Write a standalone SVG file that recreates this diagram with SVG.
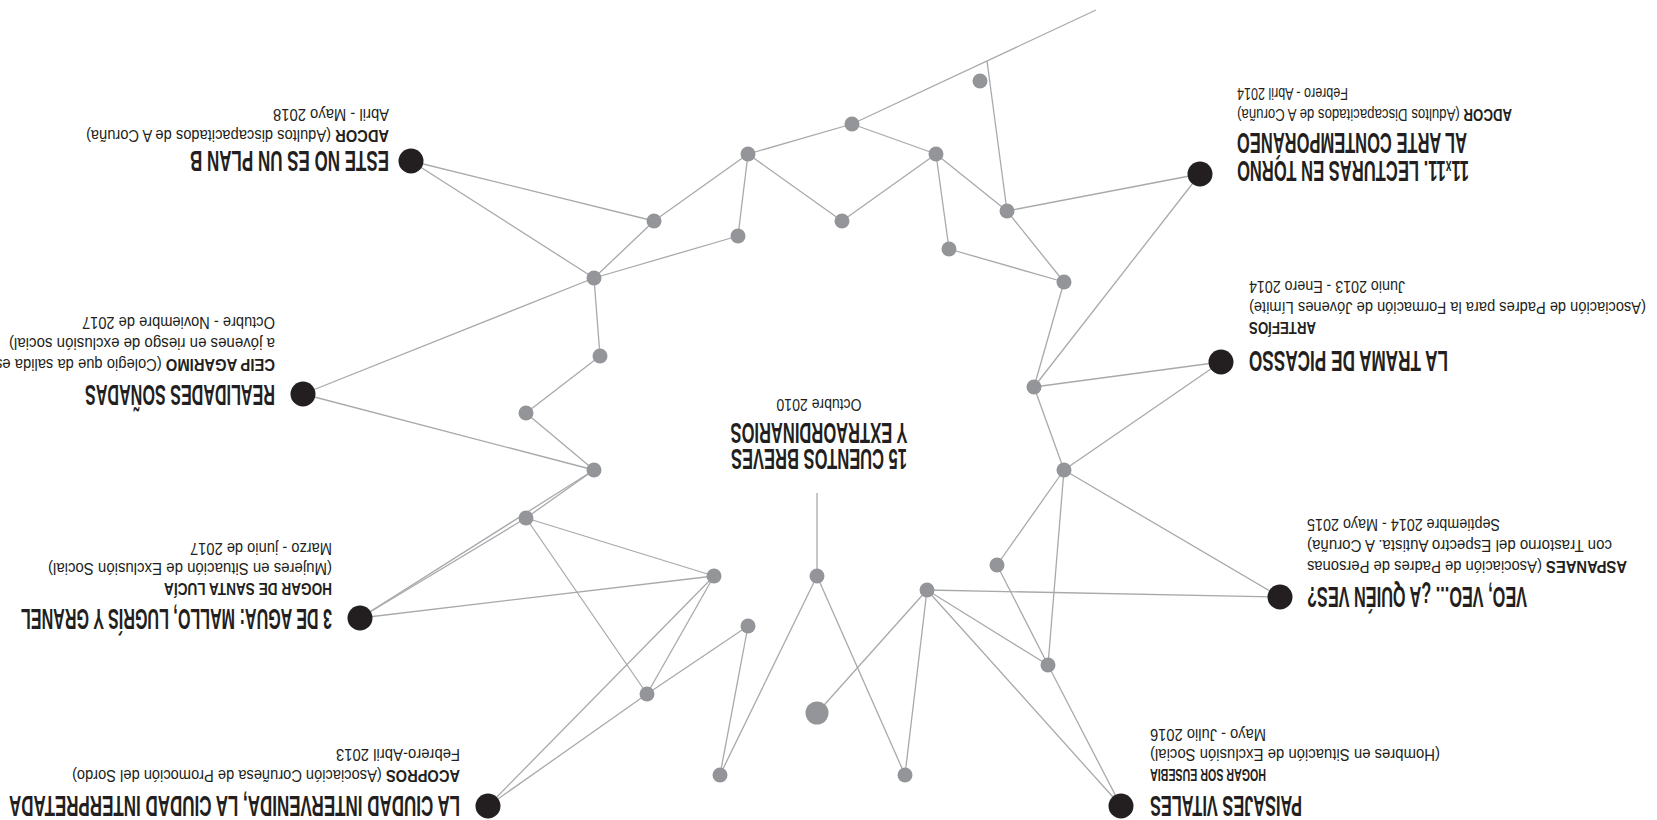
<svg xmlns="http://www.w3.org/2000/svg" width="1657" height="820" viewBox="0 0 1657 820">
<style>
.c line{stroke:#a7a9ac;stroke-width:1.3;fill:none}
.g{fill:#939598}
.b{fill:#231f20}
.t{font-family:"Liberation Sans","DejaVu Sans",sans-serif;font-weight:bold;font-size:29px;fill:#231f20}
.s{font-family:"Liberation Sans","DejaVu Sans",sans-serif;font-size:16.5px;fill:#231f20}
.s tspan.k{font-weight:bold}
.bs{font-family:"Liberation Sans","DejaVu Sans",sans-serif;font-weight:bold;font-size:16.5px;fill:#231f20}
</style>
<rect width="1657" height="820" fill="#ffffff"/>
<g transform="rotate(180 828.5 410)">
<g id="connectors" class="c">
<line x1="561" y1="810" x2="805" y2="696"/>
<line x1="670" y1="759" x2="650" y2="609"/>
<line x1="805" y1="696" x2="909" y2="666"/>
<line x1="805" y1="696" x2="721" y2="666"/>
<line x1="909" y1="666" x2="1003" y2="599"/>
<line x1="909" y1="666" x2="919" y2="584"/>
<line x1="909" y1="666" x2="815" y2="599"/>
<line x1="721" y1="666" x2="815" y2="599"/>
<line x1="721" y1="666" x2="708" y2="571"/>
<line x1="721" y1="666" x2="650" y2="609"/>
<line x1="1003" y1="599" x2="1246" y2="659"/>
<line x1="1003" y1="599" x2="1063" y2="542"/>
<line x1="1246" y1="659" x2="1063" y2="542"/>
<line x1="919" y1="584" x2="1063" y2="542"/>
<line x1="1063" y1="542" x2="1354" y2="426"/>
<line x1="1063" y1="542" x2="1057" y2="464"/>
<line x1="1057" y1="464" x2="1131" y2="407"/>
<line x1="1131" y1="407" x2="1063" y2="350"/>
<line x1="1354" y1="426" x2="1063" y2="350"/>
<line x1="1063" y1="350" x2="1131" y2="302"/>
<line x1="1063" y1="350" x2="1297" y2="202"/>
<line x1="650" y1="609" x2="457" y2="646"/>
<line x1="650" y1="609" x2="593" y2="538"/>
<line x1="708" y1="571" x2="593" y2="538"/>
<line x1="593" y1="538" x2="623" y2="433"/>
<line x1="623" y1="433" x2="457" y2="646"/>
<line x1="623" y1="433" x2="436" y2="458"/>
<line x1="623" y1="433" x2="593" y2="350"/>
<line x1="593" y1="350" x2="436" y2="458"/>
<line x1="593" y1="350" x2="377" y2="223"/>
<line x1="593" y1="350" x2="660" y2="255"/>
<line x1="593" y1="350" x2="609" y2="155"/>
<line x1="660" y1="255" x2="609" y2="155"/>
<line x1="730" y1="230" x2="377" y2="223"/>
<line x1="730" y1="230" x2="609" y2="155"/>
<line x1="730" y1="230" x2="536" y2="14"/>
<line x1="609" y1="155" x2="536" y2="14"/>
<line x1="730" y1="230" x2="752" y2="45"/>
<line x1="730" y1="230" x2="840" y2="107"/>
<line x1="1131" y1="302" x2="1297" y2="202"/>
<line x1="1131" y1="302" x2="1010" y2="126"/>
<line x1="1131" y1="302" x2="943" y2="244"/>
<line x1="943" y1="244" x2="1297" y2="202"/>
<line x1="943" y1="244" x2="1169" y2="14"/>
<line x1="943" y1="244" x2="1010" y2="126"/>
<line x1="1010" y1="126" x2="1169" y2="14"/>
<line x1="1010" y1="126" x2="909" y2="194"/>
<line x1="909" y1="194" x2="937" y2="45"/>
<line x1="840" y1="244" x2="937" y2="45"/>
<line x1="840" y1="244" x2="752" y2="45"/>
<line x1="840" y1="244" x2="840" y2="327"/>
</g>
<g id="n-g1"><circle class="g" cx="677" cy="739" r="7.5"/></g>
<g id="n-g2"><circle class="g" cx="805" cy="696" r="7.5"/></g>
<g id="n-g3"><circle class="g" cx="909" cy="666" r="7.5"/></g>
<g id="n-g4"><circle class="g" cx="721" cy="666" r="7.5"/></g>
<g id="n-g5"><circle class="g" cx="1003" cy="599" r="7.5"/></g>
<g id="n-g6"><circle class="g" cx="919" cy="584" r="7.5"/></g>
<g id="n-g7"><circle class="g" cx="815" cy="599" r="7.5"/></g>
<g id="n-g8"><circle class="g" cx="650" cy="609" r="7.5"/></g>
<g id="n-g9"><circle class="g" cx="708" cy="571" r="7.5"/></g>
<g id="n-g10"><circle class="g" cx="593" cy="538" r="7.5"/></g>
<g id="n-g11"><circle class="g" cx="1063" cy="542" r="7.5"/></g>
<g id="n-g12"><circle class="g" cx="1057" cy="464" r="7.5"/></g>
<g id="n-g13"><circle class="g" cx="1131" cy="407" r="7.5"/></g>
<g id="n-g14"><circle class="g" cx="623" cy="433" r="7.5"/></g>
<g id="n-g15"><circle class="g" cx="1063" cy="350" r="7.5"/></g>
<g id="n-g16"><circle class="g" cx="1131" cy="302" r="7.5"/></g>
<g id="n-g17"><circle class="g" cx="593" cy="350" r="7.5"/></g>
<g id="n-g18"><circle class="g" cx="943" cy="244" r="7.5"/></g>
<g id="n-g19"><circle class="g" cx="840" cy="244" r="7.5"/></g>
<g id="n-g20"><circle class="g" cx="660" cy="255" r="7.5"/></g>
<g id="n-g21"><circle class="g" cx="730" cy="230" r="7.5"/></g>
<g id="n-g22"><circle class="g" cx="909" cy="194" r="7.5"/></g>
<g id="n-g23"><circle class="g" cx="609" cy="155" r="7.5"/></g>
<g id="n-g24"><circle class="g" cx="1010" cy="126" r="7.5"/></g>
<g id="n-g25"><circle class="g" cx="840" cy="107" r="11.5"/></g>
<g id="n-g26"><circle class="g" cx="937" cy="45" r="7.5"/></g>
<g id="n-g27"><circle class="g" cx="752" cy="45" r="7.5"/></g>

<g id="n-center">
<text class="t" x="838" y="371" text-anchor="middle" textLength="176" lengthAdjust="spacingAndGlyphs">15 CUENTOS BREVES</text>
<text class="t" x="838" y="397" text-anchor="middle" textLength="177" lengthAdjust="spacingAndGlyphs">Y EXTRAORDINARIOS</text>
<text class="s" x="838" y="421" text-anchor="middle" textLength="85" lengthAdjust="spacingAndGlyphs">Octubre 2010</text>
</g>

<g id="n-plan-b">
<circle class="b" cx="1246" cy="659" r="12.5"/>
<text class="t" x="1268" y="669" textLength="199" lengthAdjust="spacingAndGlyphs">ESTE NO ES UN PLAN B</text>
<text class="s" x="1268" y="690" textLength="303" lengthAdjust="spacingAndGlyphs"><tspan class="k">ADCOR</tspan> (Adultos discapacitados de A Coruña)</text>
<text class="s" x="1268" y="711" textLength="116" lengthAdjust="spacingAndGlyphs">Abril - Mayo 2018</text>
</g>

<g id="n-realidades">
<circle class="b" cx="1354" cy="426" r="12.5"/>
<text class="t" x="1382" y="435" textLength="190" lengthAdjust="spacingAndGlyphs">REALIDADES SOÑADAS</text>
<text class="s" x="1382" y="461" textLength="280" lengthAdjust="spacingAndGlyphs"><tspan class="k">CEIP AGARIMO</tspan> (Colegio que da salida es</text>
<text class="s" x="1382" y="482" textLength="266" lengthAdjust="spacingAndGlyphs">a jóvenes en riesgo de exclusión social)</text>
<text class="s" x="1382" y="503" textLength="193" lengthAdjust="spacingAndGlyphs">Octubre - Noviembre de 2017</text>
</g>

<g id="n-3deagua">
<circle class="b" cx="1297" cy="202" r="12.5"/>
<text class="t" x="1325" y="211" textLength="311" lengthAdjust="spacingAndGlyphs">3 DE AGUA: MALLO, LUGRÍS Y GRANEL</text>
<text class="bs" x="1325" y="237" textLength="168" lengthAdjust="spacingAndGlyphs">HOGAR DE SANTA LUCÍA</text>
<text class="s" x="1325" y="257" textLength="284" lengthAdjust="spacingAndGlyphs">(Mujeres en Situación de Exclusión Social)</text>
<text class="s" x="1325" y="277" textLength="142" lengthAdjust="spacingAndGlyphs">Marzo - junio de 2017</text>
</g>

<g id="n-ciudad">
<circle class="b" cx="1169" cy="14" r="12.5"/>
<text class="t" x="1197" y="24" textLength="451" lengthAdjust="spacingAndGlyphs">LA CIUDAD INTERVENIDA, LA CIUDAD INTERPRETADA</text>
<text class="s" x="1197" y="50" textLength="388" lengthAdjust="spacingAndGlyphs"><tspan class="k">ACOPROS</tspan> (Asociación Coruñesa de Promoción del Sordo)</text>
<text class="s" x="1197" y="71" textLength="124" lengthAdjust="spacingAndGlyphs">Febrero-Abril 2013</text>
</g>

<g id="n-paisajes">
<circle class="b" cx="536" cy="14" r="12.5"/>
<text class="t" x="507" y="24" text-anchor="end" textLength="152" lengthAdjust="spacingAndGlyphs">PAISAJES VITALES</text>
<text class="bs" x="507" y="51" text-anchor="end" textLength="116" lengthAdjust="spacingAndGlyphs">HOGAR SOR EUSEBIA</text>
<text class="s" x="507" y="71" text-anchor="end" textLength="290" lengthAdjust="spacingAndGlyphs">(Hombres en Situación de Exclusión Social)</text>
<text class="s" x="507" y="91" text-anchor="end" textLength="116" lengthAdjust="spacingAndGlyphs">Mayo - Julio 2016</text>
</g>

<g id="n-veoveo">
<circle class="b" cx="377" cy="223" r="12.5"/>
<text class="t" x="350" y="233" text-anchor="end" textLength="220" lengthAdjust="spacingAndGlyphs">VEO, VEO... ¿A QUIÉN VES?</text>
<text class="s" x="350" y="259" text-anchor="end" textLength="320" lengthAdjust="spacingAndGlyphs"><tspan class="k">ASPANAES</tspan> (Asociación de Padres de Personas</text>
<text class="s" x="350" y="280" text-anchor="end" textLength="305" lengthAdjust="spacingAndGlyphs">con Trastorno del Espectro Autista. A Coruña)</text>
<text class="s" x="350" y="301" text-anchor="end" textLength="193" lengthAdjust="spacingAndGlyphs">Septiembre 2014 - Mayo 2015</text>
</g>

<g id="n-picasso">
<circle class="b" cx="436" cy="458" r="12.5"/>
<text class="t" x="408" y="469" text-anchor="end" textLength="199" lengthAdjust="spacingAndGlyphs">LA TRAMA DE PICASSO</text>
<text class="bs" x="408" y="498" text-anchor="end" textLength="67" lengthAdjust="spacingAndGlyphs">ARTEFÍOS</text>
<text class="s" x="408" y="518" text-anchor="end" textLength="397" lengthAdjust="spacingAndGlyphs">(Asociación de Padres para la Formación de Jóvenes Límite)</text>
<text class="s" x="408" y="539" text-anchor="end" textLength="156" lengthAdjust="spacingAndGlyphs">Junio 2013 - Enero 2014</text>
</g>

<g id="n-11x11">
<circle class="b" cx="457" cy="646" r="12.5"/>
<text class="t" x="420" y="659" text-anchor="end" textLength="232" lengthAdjust="spacingAndGlyphs">11<tspan font-size="18">x</tspan>11. LECTURAS EN TORNO</text>
<text class="t" x="420" y="687" text-anchor="end" textLength="230" lengthAdjust="spacingAndGlyphs">AL ARTE CONTEMPORÁNEO</text>
<text class="s" x="420" y="711" text-anchor="end" textLength="275" lengthAdjust="spacingAndGlyphs"><tspan class="k">ADCOR</tspan> (Adultos Discapacitados de A Coruña)</text>
<text class="s" x="420" y="732" text-anchor="end" textLength="111" lengthAdjust="spacingAndGlyphs">Febrero - Abril 2014</text>
</g>
</g>
</svg>
